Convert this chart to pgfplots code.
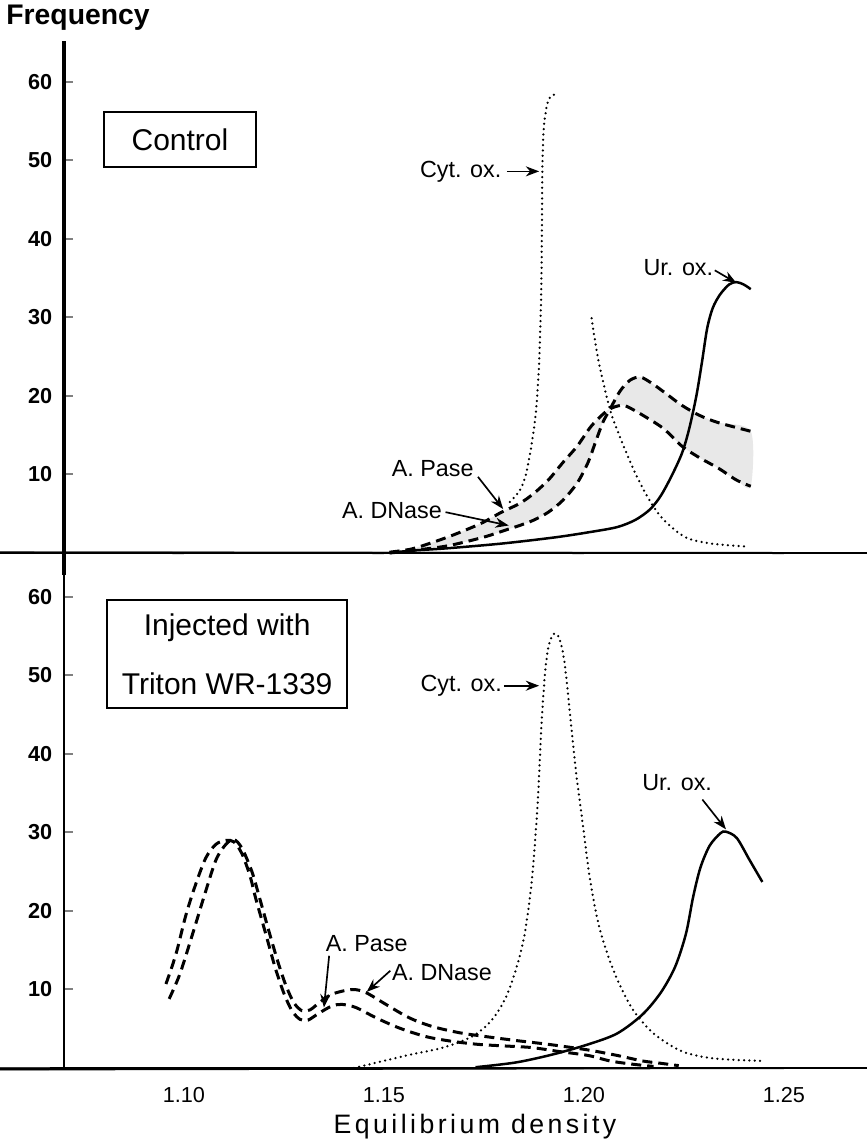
\documentclass[border=0pt]{standalone}
\usepackage{fontspec}
\setmainfont{Liberation Sans}
\newfontfamily\spacedfont[LetterSpace=13]{Liberation Sans}
\usepackage{pgfplots}
\pgfplotsset{compat=1.18}
\usetikzlibrary{arrows.meta}

\pgfplotsset{
  panel/.style={
    scale only axis, width=240.9pt,
    xmin=1.07, xmax=1.27075,
    axis y line=left,
    clip=false,
    tick align=inside, major tick length=2.7pt,
    ytick={10,20,30,40,50,60},
    yticklabel style={font=\fontsize{6.5}{7}\selectfont\bfseries},
    /pgf/number format/assume math mode=true,
    xtick style={draw=none},
    ytick style={line width=0.6pt},
  },
  noarrows/.style={
    every inner x axis line/.append style={-},
    every outer x axis line/.append style={-},
    every inner y axis line/.append style={-},
    every outer y axis line/.append style={-},
  },
  dotline/.style={line width=0.75pt, dash pattern=on 0pt off 1.6pt, line cap=round, smooth},
  dashline/.style={line width=0.9pt, dash pattern=on 3pt off 1.8pt, smooth},
  solidline/.style={line width=0.75pt, smooth},
}
\tikzset{lab/.style={font=\fontsize{7}{8}\selectfont},
  arr/.style={-{Stealth[length=4pt,width=3pt]}, line width=0.5pt}}

\begin{document}
\begin{tikzpicture}
\useasboundingbox (0,0) rectangle (260.1pt,342.9pt);

% ---------- Control ----------
\begin{axis}[panel,
  at={(19.2pt,170.4pt)}, anchor=south west, height=160.2pt,
  ymin=-2.8, ymax=65.2,
  axis x line=middle,
  noarrows,
  x axis line style={-, line width=0.6pt},
  y axis line style={-, line width=1.2pt},
  xtick={1.10,1.15,1.20,1.25}, xticklabels={},
]
% shaded band between A. Pase and A. DNase
\addplot[fill=gray!18, draw=none, smooth] coordinates {(1.1514,0.1) (1.1568,0.5) (1.1613,1.2) (1.1658,2.0) (1.1703,2.9) (1.1748,3.9) (1.1794,5.2) (1.1839,6.3) (1.1875,7.6) (1.1911,9.3) (1.1947,11.5) (1.1983,13.6) (1.2019,16.2) (1.2060,18.2) (1.2092,18.8) (1.2110,18.6) (1.2155,17.3) (1.2200,15.8) (1.2245,13.6) (1.2290,12.1) (1.2336,10.8) (1.2381,9.3) (1.2417,8.5)
 (1.2417,15.5) (1.2336,16.6) (1.2290,17.5) (1.2245,18.8) (1.2200,20.5) (1.2170,21.6) (1.2141,22.4) (1.2115,22.0) (1.2090,20.6) (1.2065,18.3) (1.2047,16.6) (1.2028,14.0) (1.2010,11.5) (1.1983,8.9) (1.1947,6.7) (1.1911,5.2) (1.1875,4.2) (1.1839,3.5) (1.1803,2.9) (1.1748,2.0) (1.1658,0.9) (1.1568,0.3) (1.1514,0)} -- cycle;
% Cyt. ox.
\addplot[dotline] coordinates {(1.1815,6.5) (1.1840,8.0) (1.1855,10.0) (1.1868,13.5) (1.1880,18.0) (1.1888,24.3) (1.1893,32.9) (1.1895,41.5) (1.1896,48.8) (1.1900,54.4) (1.1910,57.5) (1.1922,58.3) (1.1936,58.5)};
\addplot[dotline] coordinates {(1.2019,29.9) (1.2037,24.3) (1.2065,18.3) (1.2092,14.5) (1.2128,10.2) (1.2164,6.7) (1.2200,4.2) (1.2254,2.0) (1.2318,1.2) (1.2412,0.8)};
% A. Pase / A. DNase
\addplot[dashline] coordinates {(1.1514,0.1) (1.1568,0.5) (1.1613,1.2) (1.1658,2.0) (1.1703,2.9) (1.1748,3.9) (1.1794,5.2) (1.1839,6.3) (1.1875,7.6) (1.1911,9.3) (1.1947,11.5) (1.1983,13.6) (1.2019,16.2) (1.2060,18.2) (1.2092,18.8) (1.2110,18.6) (1.2155,17.3) (1.2200,15.8) (1.2245,13.6) (1.2290,12.1) (1.2336,10.8) (1.2381,9.3) (1.2417,8.5)};
\addplot[dashline] coordinates {(1.1514,0) (1.1568,0.3) (1.1658,0.9) (1.1748,2.0) (1.1803,2.9) (1.1839,3.5) (1.1875,4.2) (1.1911,5.2) (1.1947,6.7) (1.1983,8.9) (1.2010,11.5) (1.2028,14.0) (1.2047,16.6) (1.2065,18.3) (1.2090,20.6) (1.2115,22.0) (1.2141,22.4) (1.2170,21.6) (1.2200,20.5) (1.2245,18.8) (1.2290,17.5) (1.2336,16.6) (1.2417,15.5)};
% Ur. ox.
\addplot[solidline] coordinates {(1.1514,0) (1.1568,0.3) (1.1658,0.6) (1.1794,1.2) (1.1929,2.0) (1.2019,2.7) (1.2083,3.3) (1.2128,4.2) (1.2164,5.5) (1.2191,7.2) (1.2218,9.7) (1.2245,12.7) (1.2263,15.8) (1.2281,20.0) (1.2295,24.3) (1.2308,28.6) (1.2322,31.2) (1.2340,32.9) (1.2363,34.2) (1.2381,34.5) (1.2399,34.2) (1.2417,33.6)};

\draw[line width=0.6pt] (axis cs:1.10,0) -- ++(0,-6pt);
\draw[line width=0.6pt] (axis cs:1.15,0) -- ++(0,-6pt);
\draw[line width=0.6pt] (axis cs:1.20,0) -- ++(0,-6pt);
\draw[line width=0.6pt] (axis cs:1.25,0) -- ++(0,-6pt);

\draw[line width=0.6pt] (axis cs:1.080,49.1) rectangle (axis cs:1.118,56.2);
\node[font=\fontsize{9}{10}\selectfont] at (axis cs:1.099,52.65) {Control};
\node[lab] at (axis cs:1.1692,48.6) {Cyt. ox.};
\draw[arr] (axis cs:1.1807,48.6) -- (axis cs:1.1888,48.6);
\node[lab] at (axis cs:1.2236,36.3) {Ur. ox.};
\draw[arr] (axis cs:1.2327,36.0) -- (axis cs:1.2381,34.4);
\node[lab] at (axis cs:1.1622,10.8) {A. Pase};
\draw[arr] (axis cs:1.1735,9.7) -- (axis cs:1.1798,5.6);
\node[lab] at (axis cs:1.1520,5.4) {A. DNase};
\draw[arr] (axis cs:1.1654,5.2) -- (axis cs:1.1812,3.5);
\end{axis}

% ---------- Injected with Triton WR-1339 ----------
\begin{axis}[panel,
  at={(19.2pt,22.5pt)}, anchor=south west, height=147.9pt,
  ymin=0, ymax=62.8,
  axis x line=bottom,
  noarrows,
  x axis line style={-, line width=0.6pt},
  y axis line style={-, line width=0.6pt},
  xtick={1.10,1.15,1.20,1.25}, xticklabels={1.10,1.15,1.20,1.25},
  xticklabel style={font=\fontsize{6.5}{7}\selectfont, yshift=-1pt},
]
% Cyt. ox.
\addplot[dotline] coordinates {(1.1425,0) (1.1557,1.6) (1.1648,2.6) (1.1720,4.0) (1.1766,5.9) (1.1802,8.7) (1.1829,12.4) (1.1852,17.1) (1.1870,24.1) (1.1884,33.5) (1.1893,42.9) (1.1902,49.9) (1.1911,53.6) (1.1924,55.3) (1.1938,54.8) (1.1951,51.8) (1.1965,45.2) (1.1979,38.2) (1.1997,31.1) (1.2015,24.1) (1.2038,18.0) (1.2074,12.4) (1.2119,7.7) (1.2174,4.4) (1.2246,2.1) (1.2328,1.2) (1.2450,0.9)};
% Ur. ox.
\addplot[solidline] coordinates {(1.1729,0.1) (1.1829,0.7) (1.1920,1.7) (1.2010,3.0) (1.2083,4.4) (1.2146,6.8) (1.2192,9.6) (1.2228,12.9) (1.2255,17.1) (1.2273,21.8) (1.2291,25.5) (1.2314,28.3) (1.2341,29.9) (1.2355,30.1) (1.2382,29.3) (1.2414,26.5) (1.2446,23.7)};
% A. Pase
\addplot[dashline] coordinates {(1.0955,10.7) (1.0980,14.5) (1.1005,19.5) (1.1030,23.5) (1.1055,26.8) (1.1080,28.5) (1.1105,29.0) (1.1125,28.8) (1.1145,27.3) (1.1165,24.5) (1.1180,21.5) (1.1205,17.0) (1.1228,12.8) (1.1250,9.5) (1.1270,7.3) (1.1290,6.2) (1.1310,6.1) (1.1338,7.0) (1.1370,7.9) (1.1395,8.1) (1.1430,7.7) (1.1480,6.4) (1.1538,5.1) (1.1605,4.0) (1.1670,3.4) (1.1738,3.0) (1.1805,2.8) (1.1870,2.6) (1.1938,2.1) (1.2010,1.6) (1.2065,0.9) (1.2119,0.5) (1.2174,0.2)};
% A. DNase
\addplot[dashline] coordinates {(1.0963,8.8) (1.0990,12.0) (1.1023,17.3) (1.1050,21.8) (1.1080,26.5) (1.1105,28.5) (1.1125,29.1) (1.1145,28.0) (1.1170,25.0) (1.1190,21.5) (1.1212,17.5) (1.1235,13.5) (1.1255,10.5) (1.1275,8.3) (1.1295,7.3) (1.1315,7.4) (1.1338,8.3) (1.1370,9.4) (1.1420,10.0) (1.1455,9.6) (1.1505,8.1) (1.1563,6.4) (1.1620,5.3) (1.1688,4.5) (1.1755,4.0) (1.1830,3.5) (1.1913,3.0) (1.2010,2.3) (1.2083,1.6) (1.2146,0.9) (1.2192,0.6) (1.2237,0.3)};

\draw[line width=0.6pt] (axis cs:1.10,0) -- ++(0,-2.4pt);
\draw[line width=0.6pt] (axis cs:1.15,0) -- ++(0,-2.4pt);
\draw[line width=0.6pt] (axis cs:1.20,0) -- ++(0,-2.4pt);
\draw[line width=0.6pt] (axis cs:1.25,0) -- ++(0,-2.4pt);

\draw[line width=0.6pt] (axis cs:1.0808,45.9) rectangle (axis cs:1.1408,59.6);
\node[font=\fontsize{9}{10}\selectfont] at (axis cs:1.1108,56.1) {Injected with};
\node[font=\fontsize{9}{10}\selectfont] at (axis cs:1.1108,49.0) {Triton WR-1339};
\node[lab] at (axis cs:1.1693,48.7) {Cyt. ox.};
\draw[arr] (axis cs:1.1800,48.7) -- (axis cs:1.1888,48.7);
\node[lab] at (axis cs:1.2233,36.3) {Ur. ox.};
\draw[arr] (axis cs:1.2296,34.2) -- (axis cs:1.2355,30.4);
\node[lab] at (axis cs:1.1457,15.9) {A. Pase};
\draw[arr] (axis cs:1.1363,14.3) -- (axis cs:1.1350,7.7);
\node[lab] at (axis cs:1.1645,12.2) {A. DNase};
\draw[arr] (axis cs:1.1516,12.4) -- (axis cs:1.1457,9.7);
\end{axis}

\node[font=\fontsize{8.5}{10}\selectfont\bfseries] at (23.4pt,337.5pt) {Frequency};
\node[font=\fontsize{8}{9}\spacedfont] at (142.5pt,4.8pt) {Equilibrium density};
\end{tikzpicture}
\end{document}
